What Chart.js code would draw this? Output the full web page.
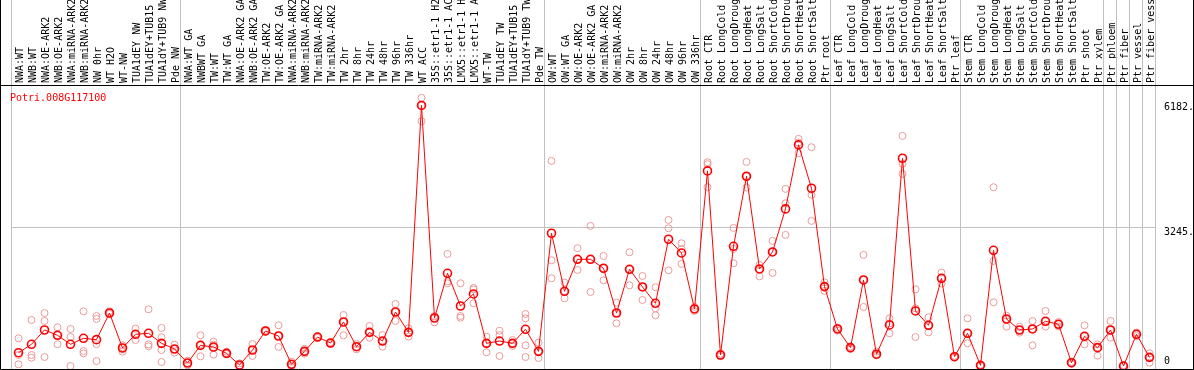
<!DOCTYPE html>
<html>
<head>
<meta charset="utf-8">
<script src="https://cdn.jsdelivr.net/npm/chart.js@4/dist/chart.umd.min.js"></script>
<style>
  html, body { margin: 0; padding: 0; background: #fff; }
  canvas { display: block; }
</style>
</head>
<body>
<canvas id="chart" width="1194" height="370"></canvas>
<script>
const geneId = "Potri.008G117100";

const samples = [
  "NWA:WT", "NWB:WT", "NWA:OE-ARK2", "NWB:OE-ARK2", "NWA:miRNA-ARK2", "NWB:miRNA-ARK2",
  "NW 0hr", "WT H2O", "WT-NW", "TUA1dEY NW", "TUA1dEY+TUB15 NW", "TUA1dY+TUB9 NW", "Pde NW",
  "NWA:WT GA", "NWBWT GA", "TW:WT", "TW:WT GA", "NWA:OE-ARK2 GA", "NWB:OE-ARK2 GA",
  "TW:OE-ARK2", "TW:OE-ARK2 GA", "NWA:miRNA-ARK2 GA", "NWB:miRNA-ARK2 GA", "TW:miRNA-ARK2",
  "TW:miRNA-ARK2 GA", "TW 2hr", "TW 8hr", "TW 24hr", "TW 48hr", "TW 96hr", "TW 336hr",
  "WT ACC", "35S::etr1-1 H2O", "35S::etr1-1 ACC", "LMX5::etr1-1 H2O", "LMX5::etr1-1 ACC",
  "WT-TW", "TUA1dEY TW", "TUA1dEY+TUB15 TW", "TUA1dY+TUB9 TW", "Pde TW",
  "OW:WT", "OW:WT GA", "OW:OE-ARK2", "OW:OE-ARK2 GA", "OW:miRNA-ARK2", "OW:miRNA-ARK2 GA",
  "OW 2hr", "OW 8hr", "OW 24hr", "OW 48hr", "OW 96hr", "OW 336hr",
  "Root CTR", "Root LongCold", "Root LongDrought", "Root LongHeat", "Root LongSalt",
  "Root ShortCold", "Root ShortDrought", "Root ShortHeat", "Root ShortSalt", "Ptr root",
  "Leaf CTR", "Leaf LongCold", "Leaf LongDrought", "Leaf LongHeat", "Leaf LongSalt",
  "Leaf ShortCold", "Leaf ShortDrought", "Leaf ShortHeat", "Leaf ShortSalt", "Ptr leaf",
  "Stem CTR", "Stem LongCold", "Stem LongDrought", "Stem LongHeat", "Stem LongSalt",
  "Stem ShortCold", "Stem ShortDrought", "Stem ShortHeat", "Stem ShortSalt", "Ptr shoot",
  "Ptr xylem", "Ptr phloem", "Ptr fiber", "Ptr vessel", "Ptr fiber vessel"
];

// sample index where a new group starts (gray separators)
const groupBreaks = [0, 13, 41, 53, 63, 73, 84, 85, 86, 87, 88];
const yTicks = [0, 3245, 6182];

const meanValues = [
  313, 510, 846, 721, 510, 651, 619, 1245, 423, 745, 768, 533, 400,
  71, 486, 447, 298, 24, 376, 823, 705, 40, 345, 681, 540, 1034, 454, 791, 587, 1269, 791,
  6120, 1128, 2178, 1410, 1692, 533, 587, 533, 862, 345,
  3118, 1755, 2507, 2507, 2296, 1245, 2272, 1857, 1473, 2977, 2656, 1340,
  4583, 259, 2812, 4457, 2280, 2679, 3690, 5194, 4175, 1865,
  870, 431, 2021, 278, 964, 4880, 1293, 956, 2060, 219,
  768, 16, 2718, 1104, 846, 870, 1050, 980, 78, 698, 431,
  846, 0, 745, 204
];

const rep1 = [
  651, 1081, 1245, 909, 869, 1285, 1175, 1285, 490, 877, 1332, 893, 501,
  125, 721, 572, 336, 63, 517, 846, 956, 102, 407, 700, 560, 1198, 517, 940, 728, 1457, 885,
  6298, 1175, 2632, 1943, 1833, 689, 830, 611, 1222, 548,
  4818, 1959, 2766, 3290, 2585, 1488, 2671, 2115, 1849, 3431, 2883, 1390,
  4786, 290, 3243, 4794, 2373, 2938, 4160, 5335, 5139, 1966,
  900, 460, 2609, 340, 1120, 5405, 1802, 1144, 2194, 240,
  1120, 30, 4199, 1183, 924, 1058, 1293, 1035, 100, 956, 510,
  1058, 20, 790, 298
];

const rep2 = [
  258, 258, 1058, 721, 681, 352, 1104, 1245, 439, 745, 509, 674, 400,
  71, 510, 500, 298, 10, 376, 823, 705, 40, 345, 681, 540, 1034, 454, 791, 587, 1269, 791,
  6120, 1128, 1990, 1175, 1800, 533, 728, 533, 1120, 345,
  2484, 1755, 2507, 2507, 2296, 1245, 2272, 1857, 1355, 3235, 2750, 1340,
  4740, 259, 2750, 4457, 2280, 2679, 3823, 5250, 4019, 1865,
  870, 431, 2021, 282, 1000, 4747, 1355, 956, 2060, 219,
  768, 16, 2467, 1104, 783, 870, 1050, 980, 78, 698, 431,
  846, 0, 745, 204
];

const rep3 = [
  40, 195, 212, 510, 0, 298, 517, 1222, 336, 611, 463, 376, 313,
  16, 228, 266, 282, 0, 235, 800, 447, 0, 290, 660, 520, 721, 392, 665, 454, 1058, 689,
  5750, 1026, 1943, 1136, 1473, 321, 235, 470, 486, 188,
  2061, 1590, 2256, 1739, 2014, 1003, 1896, 1551, 1191, 2248, 2397, 1290,
  4199, 230, 2413, 4191, 2107, 2186, 3079, 4998, 3408, 1763,
  830, 400, 1387, 250, 768, 4512, 681, 791, 1935, 200,
  533, 5, 1496, 924, 846, 486, 924, 930, 50, 510, 242,
  665, 0, 700, 78
];

const rep4 = [
  null, null, null, null, null, null, 117, null, null, null, null, 94, null,
  null, null, null, null, null, null, null, null, null, null, null, null, null, null, null, null, null, null,
  null, null, null, null, null, null, null, null, 212, null,
  null, null, null, null, null, null, null, null, null, null, null, null,
  null, null, null, null, null, null, null, null, null, null,
  null, null, null, null, null, null, null, null, null, null,
  null, null, null, null, null, null, null, null, null, null, null,
  null, null, null, null
];

const lineRed = "#ff0000";
const repPink = "#ec9a9a";
const sepGray = "#c0c0c0";
const monoFont = '"DejaVu Sans Mono", "Liberation Mono", monospace';

const repDataset = (data) => ({
  data,
  showLine: false,
  pointStyle: "circle",
  pointRadius: 3.5,
  pointBorderWidth: 1,
  pointBorderColor: repPink,
  pointBackgroundColor: "rgba(0,0,0,0)",
  borderColor: repPink,
});

const framePlugin = {
  id: "frame",
  beforeDatasetsDraw(chart) {
    const { ctx, scales } = chart;
    const x = scales.x;
    const half = (x.getPixelForValue(1) - x.getPixelForValue(0)) / 2;
    ctx.save();
    ctx.strokeStyle = sepGray;
    ctx.lineWidth = 1;
    groupBreaks.forEach((b) => {
      const px = Math.floor(x.getPixelForValue(b) - half) - 0.5;
      ctx.beginPath();
      ctx.moveTo(px, 0);
      ctx.lineTo(px, chart.height);
      ctx.stroke();
    });
    ctx.restore();
  },
  afterDraw(chart) {
    const { ctx, chartArea, width, height } = chart;
    ctx.save();
    ctx.strokeStyle = "#000";
    ctx.lineWidth = 1;
    ctx.beginPath();
    ctx.moveTo(0, chartArea.top + 0.5);
    ctx.lineTo(width, chartArea.top + 0.5);
    ctx.moveTo(0.5, 0);
    ctx.lineTo(0.5, height - 0.5);
    ctx.lineTo(width - 0.5, height - 0.5);
    ctx.lineTo(width - 0.5, 0);
    ctx.stroke();

    ctx.fillStyle = lineRed;
    ctx.font = "10px " + monoFont;
    ctx.textBaseline = "alphabetic";
    ctx.fillText(geneId, 10, 101);
    ctx.restore();
  },
};

new Chart(document.getElementById("chart"), {
  type: "line",
  data: {
    labels: samples,
    datasets: [
      {
        data: meanValues,
        borderColor: lineRed,
        borderWidth: 1,
        tension: 0,
        pointStyle: "circle",
        pointRadius: 4,
        pointBorderWidth: 1.6,
        pointBorderColor: lineRed,
        pointBackgroundColor: "rgba(0,0,0,0)",
      },
      repDataset(rep1),
      repDataset(rep2),
      repDataset(rep3),
      repDataset(rep4),
    ],
  },
  options: {
    responsive: false,
    animation: false,
    devicePixelRatio: 1,
    layout: { autoPadding: false, padding: { left: 12, right: 0, top: 0, bottom: 1 } },
    plugins: {
      legend: { display: false },
      tooltip: { enabled: false },
    },
    scales: {
      x: {
        position: "top",
        offset: true,
        grid: { display: false, drawTicks: false },
        border: { display: false },
        ticks: {
          autoSkip: false,
          minRotation: 90,
          maxRotation: 90,
          padding: 2,
          labelOffset: 14,
          color: "#000",
          font: { family: monoFont, size: 10 },
        },
        afterFit(scale) {
          scale.height = 85;
          scale.paddingLeft = 0;
          scale.paddingRight = 0;
        },
      },
      y: {
        position: "right",
        min: -70,
        max: 6600,
        grid: {
          drawTicks: false,
          color: (c) => (c.tick && c.tick.value === 3245 ? sepGray : "rgba(0,0,0,0)"),
        },
        border: { display: false },
        afterBuildTicks(scale) {
          scale.ticks = yTicks.map((v) => ({ value: v }));
        },
        ticks: {
          padding: 8,
          color: "#000",
          font: { family: monoFont, size: 10, lineHeight: 1 },
          callback: (v) => (v === 0 ? ["0", ""] : ["", v + "."]),
        },
        afterFit(scale) {
          scale.width = 38;
          scale.paddingTop = 0;
          scale.paddingBottom = 0;
        },
      },
    },
  },
  plugins: [framePlugin],
});
</script>
</body>
</html>
